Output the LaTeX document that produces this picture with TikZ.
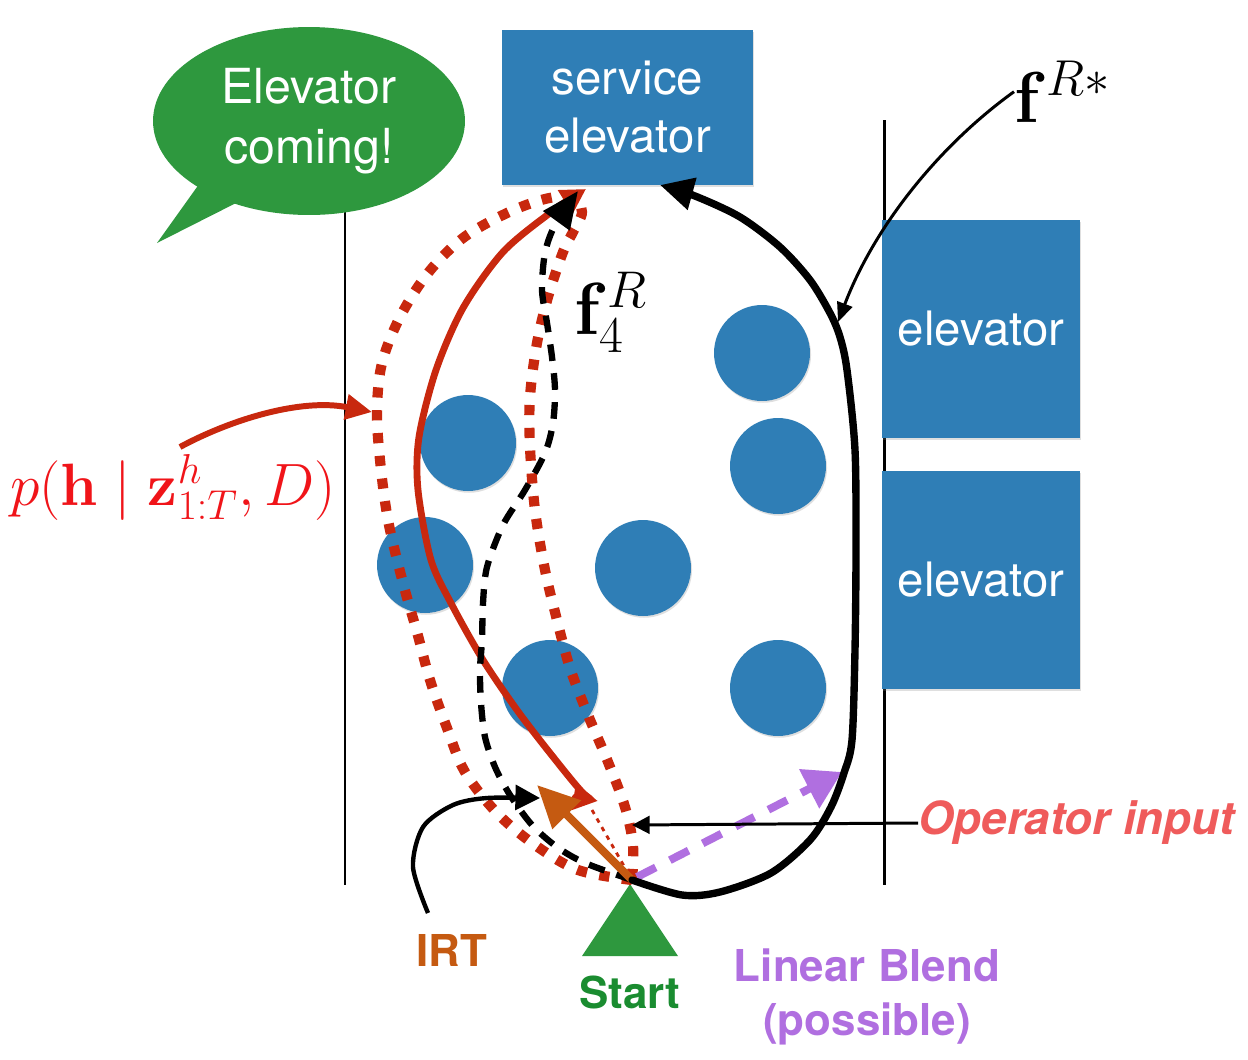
\documentclass[tikz,border=0pt]{standalone}
\IfFileExists{fix-cm.sty}{\usepackage{fix-cm}}{}
\usepackage{amsmath}
\usepackage[no-math]{fontspec}
\setmainfont{TeX Gyre Heros}
\usetikzlibrary{arrows.meta,shapes.geometric,shadows}
\definecolor{eblue}{RGB}{47,126,182}
\definecolor{bgreen}{RGB}{46,152,62}
\definecolor{sgreen}{RGB}{26,140,48}
\definecolor{tred}{RGB}{200,40,14}
\definecolor{mred}{RGB}{240,20,25}
\definecolor{irtc}{RGB}{197,90,17}
\definecolor{lpurple}{RGB}{176,111,224}
\definecolor{opred}{RGB}{239,91,91}
\begin{document}
\begin{tikzpicture}[x=0.02cm,y=-0.02cm,
  wall/.style={line width=1.7pt},
  blueblock/.style={fill=eblue, text=white, inner sep=0pt, align=center,
    font=\fontsize{27}{33}\selectfont,
    drop shadow={opacity=0.25, shadow xshift=0.6pt, shadow yshift=-1pt}},
  obst/.style={circle, fill=eblue, minimum size=1.92cm, inner sep=0pt,
    drop shadow={opacity=0.25, shadow xshift=0.6pt, shadow yshift=-1pt}},
  lbl/.style={inner sep=0pt, align=center, font=\fontsize{25}{31}\selectfont\bfseries},
  reddot/.style={tred, line width=5.8pt, dash pattern=on 5.8pt off 7.2pt},
  redsolid/.style={tred, line width=3.9pt, line cap=round},
  blkdash/.style={black, line width=3.6pt, dash pattern=on 9.5pt off 7pt},
  blkmain/.style={black, line width=4.2pt, line cap=round},
  orangearr/.style={irtc, line width=4.5pt, -{Triangle[length=24pt,width=22pt]}},
  purparr/.style={lpurple, line width=4.5pt, dash pattern=on 12pt off 9pt, -{Triangle[length=21pt,width=24pt]}},
  thinarr/.style={black, line width=1.7pt, -{Triangle[length=10pt,width=10pt]}},
  irtcurve/.style={black, line width=2.5pt, -{Triangle[length=14pt,width=14pt]}},
]
\fill[white] (0,0) rectangle (1248,1059);
\useasboundingbox (0,0) rectangle (1248,1059);

% walls
\coordinate (wl1) at (345,200); \coordinate (wl2) at (345,885);
\coordinate (wr1) at (884,120); \coordinate (wr2) at (884,885);
\draw[wall] (wl1) -- (wl2);
\draw[wall] (wr1) -- (wr2);

% elevators
\node[blueblock, minimum width=5.02cm, minimum height=3.1cm] (svc) at (627.5,107.5) {service\\elevator};
\node[blueblock, minimum width=3.96cm, minimum height=4.36cm] (el1) at (981,329) {elevator};
\node[blueblock, minimum width=3.96cm, minimum height=4.36cm] (el2) at (981,580) {elevator};

% obstacles
\node[obst] (o1) at (468,443) {};
\node[obst] (o2) at (425,565) {};
\node[obst] (o3) at (550,688) {};
\node[obst] (o4) at (643,568) {};
\node[obst] (o5) at (762,353) {};
\node[obst] (o6) at (778,466) {};
\node[obst] (o7) at (778,688) {};

% speech bubble
\fill[bgreen] (202,180) -- (157,243) -- (242,200) -- cycle;
\node[ellipse, fill=bgreen, minimum width=6.24cm, minimum height=3.76cm, inner sep=0pt,
  text=white, align=center, font=\fontsize{27.5}{34}\selectfont] (bubble) at (309,121) {Elevator\\coming!};

% start
\coordinate (start) at (632,880);
\fill[bgreen] (630,884) -- (678,956) -- (582,956) -- cycle;

% distribution tube (red dotted)
\draw[reddot] plot[smooth, tension=0.55] coordinates {(start) (578,870) (535,845) (497,813) (465,772) (447,728) (430,680) (417,632) (403,583) (388,520) (380,460) (377,410) (382,363) (400,317) (428,273) (463,238) (507,213) (545,199) (572,197) (582,212) (573,232) (563,252) (548,297) (537,343) (530,397) (530,447) (535,510) (545,570) (557,620) (570,668) (588,715) (608,762) (625,807) (633,845) (start)};

% red solid two-headed
\draw[redsolid, {Triangle[length=14pt,width=15pt]}-{Triangle[length=14pt,width=14pt]}] plot[smooth] coordinates {(586,189) (550,213) (503,252) (463,308) (436,370) (419,437) (418,490) (431,560) (452,605) (483,660) (517,710) (550,753) (583,793) (598,801)};
\draw[tred, line width=1.6pt, dash pattern=on 2.6pt off 3pt] (592,810) -- (start);

% black dashed f4
\draw[blkdash, -{Triangle[length=21pt,width=18pt]}] plot[smooth] coordinates {(start) (585,863) (557,847) (532,825) (510,795) (495,767) (485,737) (481,703) (480,670) (482,640) (483,603) (487,567) (503,525) (525,490) (545,453) (553,423) (555,390) (552,357) (547,323) (542,290) (545,253) (555,225) (578,191)};

% IRT
\coordinate (irtend) at (537,785);
\draw[orangearr] (start) -- (irtend);

% linear blend
\coordinate (pstart) at (637,877);
\coordinate (pend) at (842,772);
\draw[purparr] (pstart) -- (pend);

% f R*
\draw[blkmain, -{Triangle[length=19pt,width=18pt]}] plot[smooth] coordinates {(start) (682,895) (720,892) (771,873) (810,840) (831,807) (844,773) (852,740) (855,650) (856,550) (855,450) (847,370) (840,337) (830,313) (810,280) (780,247) (740,217) (695,196) (660,185)};

% labels
\node[anchor=base west, inner sep=0pt, text=mred, font=\fontsize{34}{40}\selectfont] (plbl) at (10,505) {$p(\mathbf{h}\mid \mathbf{z}^{h}_{1:T}, D)$};
\node[anchor=base west, inner sep=0pt, font=\fontsize{42}{48}\selectfont] (f4) at (574,334) {$\mathbf{f}^{R}_{4}$};
\node[anchor=base west, inner sep=0pt, font=\fontsize{41}{46}\selectfont] (fstar) at (1014,122) {$\mathbf{f}^{R*}$};
\node[lbl, text=sgreen] (startlbl) at (630,992) {Start};
\node[lbl, text=irtc] (irtlbl) at (452,950) {IRT};
\node[lbl, text=lpurple] (lblend) at (867,997) {Linear Blend\\(possible)};
\node[lbl, text=opred, anchor=west, font=\fontsize{26}{31}\selectfont\bfseries\itshape] (opin) at (918,823) {Operator input};

% annotation arrows
\coordinate (optip) at (632,825);
\draw[thinarr] (opin.west) -- (optip);
\coordinate (irtc0) at (428,913);
\coordinate (irtc1) at (540,798);
\draw[irtcurve] plot[smooth] coordinates {(irtc0) (413,867) (423,827) (453,805) (487,798) (irtc1)};
\coordinate (fstip) at (838,322);
\draw[black, line width=1.7pt, -{Triangle[length=11pt,width=9pt]}] (fstar.west) .. controls (940,145) and (875,225) .. (fstip);
\coordinate (ptip) at (372,412);
\draw[tred, line width=3.4pt, -{Triangle[length=15pt,width=14pt]}] (180,447) .. controls (230,420) and (300,398) .. (ptip);
\end{tikzpicture}
\end{document}
